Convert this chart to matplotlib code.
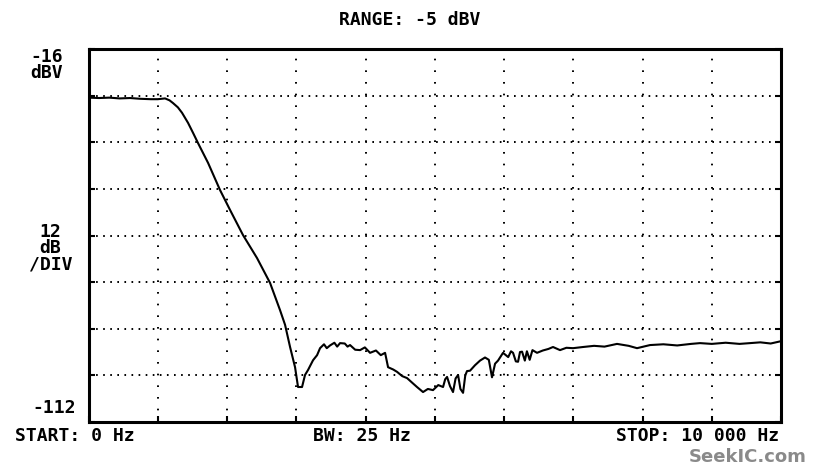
import numpy as np
import matplotlib
matplotlib.use('Agg')
import matplotlib.pyplot as plt

plt.rcParams['lines.scale_dashes'] = False

# trace: frequency [Hz], level [dBV]
freq = [0, 150, 300, 450, 600, 750, 900, 1000, 1105, 1170, 1220, 1290, 1350, 1437,
        1510, 1581, 1726, 1899, 2043, 2231, 2433, 2621, 2765, 2838, 2910, 2982,
        3025, 3083, 3126, 3170, 3242, 3300, 3343, 3400, 3440, 3487, 3550, 3590,
        3632, 3700, 3740, 3776, 3850, 3921, 3990, 4065, 4150, 4220, 4282, 4325,
        4400, 4455, 4530, 4599, 4680, 4743, 4830, 4900, 4974, 5050, 5119, 5150,
        5177, 5220, 5263, 5300, 5336, 5370, 5408, 5440, 5465, 5509, 5580, 5653,
        5725, 5780, 5826, 5870, 5913, 5985, 6060, 6100, 6130, 6170, 6202, 6230,
        6260, 6300, 6330, 6370, 6410, 6476, 6560, 6640, 6707, 6808, 6900, 6996,
        7140, 7300, 7450, 7631, 7800, 7920, 8108, 8300, 8500, 8700, 8830, 9000,
        9200, 9400, 9552, 9700, 9850, 10000]
level = [-28.5, -28.6, -28.5, -28.7, -28.6, -28.8, -28.9, -28.9, -28.7, -29.2,
         -29.9, -31.0, -32.4, -35.0, -37.6, -40.2, -45.3, -52.3, -57.4, -63.9,
         -69.8, -76.2, -83.2, -87.0, -92.7, -97.9, -103.0, -103.0, -99.9, -98.6,
         -96.1, -94.8, -93.0, -92.0, -93.0, -92.3, -91.6, -92.6, -91.7, -91.8,
         -92.6, -92.2, -93.4, -93.5, -92.8, -94.2, -93.6, -94.8, -94.2, -97.9,
         -98.5, -99.1, -100.2, -100.7, -102.0, -103.0, -104.3, -103.5, -103.8,
         -102.5, -103.0, -101.0, -100.4, -102.8, -104.3, -100.8, -99.9, -103.5,
         -104.5, -100.0, -98.9, -98.8, -97.4, -96.2, -95.4, -96.0, -100.5, -97.0,
         -96.2, -94.2, -95.3, -93.8, -94.2, -96.4, -96.5, -94.0, -93.9, -96.2,
         -93.8, -96.0, -93.5, -94.2, -93.6, -93.2, -92.7, -93.5, -92.9, -93.0,
         -92.7, -92.4, -92.6, -91.9, -92.4, -93.0, -92.2, -92.0, -92.3, -91.9,
         -91.7, -91.9, -91.6, -91.9, -91.7, -91.5, -91.8, -91.2]

fig = plt.figure(figsize=(8.16, 4.72), dpi=100)
ax = fig.add_axes([0.1085, 0.106, 0.8487, 0.790])

ax.plot(freq, level, color='black', lw=1.5)

ax.set_xlim(0, 10000)
ax.set_ylim(-112, -16)
ax.set_xticks(np.arange(0, 10001, 1000))
ax.set_yticks(np.arange(-112, -15, 12))
ax.tick_params(direction='in', length=4, width=1.5, labelleft=False, labelbottom=False,
               top=False, right=True)
for s in ax.spines.values():
    s.set_linewidth(2.2)

for x in np.arange(1000, 10000, 1000):
    ax.axvline(x, color='black', lw=1.4, ls=(0, (1.2, 7.2)))
for y in np.arange(-100, -16, 12):
    ax.axhline(y, color='black', lw=1.4, ls=(0, (1.2, 3.9)))

font = dict(family='DejaVu Sans Mono', weight='bold', fontsize=13, color='black')
fig.text(0.502, 0.957, 'RANGE: -5 dBV', ha='center', va='center', **font)
fig.text(0.077, 0.863, '-16\ndBV', ha='right', va='center', linespacing=0.85, **font)
fig.text(0.062, 0.474, '12\ndB\n/DIV', ha='center', va='center', linespacing=0.9, **font)
fig.text(0.093, 0.135, '-112', ha='right', va='center', **font)
fig.text(0.018, 0.077, 'START: 0 Hz', ha='left', va='center', **font)
fig.text(0.443, 0.077, 'BW: 25 Hz', ha='center', va='center', **font)
fig.text(0.955, 0.077, 'STOP: 10 000 Hz', ha='right', va='center', **font)
fig.text(0.988, 0.032, 'SeekIC.com', ha='right', va='center', fontsize=13,
         fontweight='bold', color='#8a8a8a', family='DejaVu Sans')

fig.savefig('out.png', dpi=100)
